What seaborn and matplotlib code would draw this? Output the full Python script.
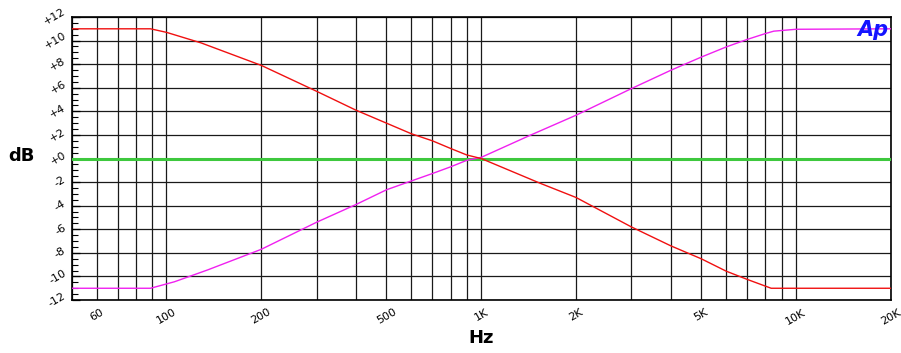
import numpy as np
import pandas as pd
import seaborn as sns
import matplotlib
matplotlib.use("Agg")
import matplotlib.pyplot as plt
from matplotlib.ticker import FixedLocator, FixedFormatter, LogLocator, MultipleLocator, NullFormatter

# red curve (bass boost / treble cut)
red_freq = [50, 89, 100, 129, 200, 300, 400, 500, 600, 700, 800, 900, 1000,
            1540, 2000, 3000, 4000, 5000, 6000, 7000, 8340, 20000]
red_db = [11.0, 11.0, 10.7, 9.8, 7.9, 5.7, 4.1, 3.0, 2.1, 1.5, 0.85, 0.3, 0.0,
          -2.1, -3.3, -5.8, -7.4, -8.5, -9.55, -10.25, -11.0, -11.0]

# magenta curve (bass cut / treble boost)
mag_freq = [50, 89, 106, 135, 200, 300, 400, 500, 600, 700, 800, 900, 1000,
            1430, 2000, 3000, 4000, 5000, 6000, 7000, 8000, 8500, 10000, 20000]
mag_db = [-11.0, -11.0, -10.45, -9.45, -7.7, -5.4, -3.9, -2.65, -1.9, -1.27, -0.7, -0.15, 0.1,
          1.97, 3.67, 5.93, 7.48, 8.6, 9.46, 10.1, 10.6, 10.8, 10.96, 11.0]

# flat curve
flat_freq = [50, 20000]
flat_db = [0.0, 0.0]

x_ticks = [60, 100, 200, 500, 1000, 2000, 5000, 10000, 20000]
x_labels = ["60", "100", "200", "500", "1K", "2K", "5K", "10K", "20K"]
y_ticks = [-12, -10, -8, -6, -4, -2, 0, 2, 4, 6, 8, 10, 12]
y_labels = ["-12", "-10", "-8", "-6", "-4", "-2", "+0", "+2", "+4", "+6", "+8", "+10", "+12"]

sns.set_theme(style="white")
plt.rcParams["font.family"] = ["DejaVu Sans"]
plt.rcParams["text.color"] = "black"
plt.rcParams["axes.labelcolor"] = "black"
plt.rcParams["xtick.color"] = "black"
plt.rcParams["ytick.color"] = "black"

fig = plt.figure(figsize=(9.01, 3.53), dpi=100)
ax = fig.add_axes([0.0796, 0.150, 0.9090, 0.8018])

red_df = pd.DataFrame({"Hz": red_freq, "dB": red_db})
mag_df = pd.DataFrame({"Hz": mag_freq, "dB": mag_db})
flat_df = pd.DataFrame({"Hz": flat_freq, "dB": flat_db})

sns.lineplot(data=flat_df, x="Hz", y="dB", ax=ax, color="#3ec83e", linewidth=2.2,
             sort=False, estimator=None, zorder=3)
sns.lineplot(data=mag_df, x="Hz", y="dB", ax=ax, color="#f020f0", linewidth=1.0,
             sort=False, estimator=None, zorder=4)
sns.lineplot(data=red_df, x="Hz", y="dB", ax=ax, color="#f01010", linewidth=1.0,
             sort=False, estimator=None, zorder=5)

ax.set_xscale("log")
ax.set_xlim(50, 20000)
ax.set_ylim(-12, 12)

ax.xaxis.set_major_locator(FixedLocator(x_ticks))
ax.xaxis.set_major_formatter(FixedFormatter(x_labels))
ax.xaxis.set_minor_locator(LogLocator(base=10, subs=np.arange(2, 10), numticks=20))
ax.xaxis.set_minor_formatter(NullFormatter())
ax.yaxis.set_major_locator(FixedLocator(y_ticks))
ax.yaxis.set_major_formatter(FixedFormatter(y_labels))
ax.yaxis.set_minor_locator(MultipleLocator(0.5))

ax.grid(True, which="major", axis="y", color="#1a1a1a", linewidth=0.9)
ax.grid(True, which="both", axis="x", color="#1a1a1a", linewidth=0.9)

ax.tick_params(axis="x", which="both", length=0, pad=5, labelsize=8, labelrotation=30)
ax.tick_params(axis="y", which="major", direction="in", length=6, width=0.9,
               color="black", pad=3, labelsize=8, labelrotation=30, left=True)
ax.tick_params(axis="y", which="minor", direction="in", length=4, width=0.8,
               color="black", left=True)
for lbl in ax.get_yticklabels():
    lbl.set_ha("right")
    lbl.set_va("center")

for s in ax.spines.values():
    s.set_color("black")
    s.set_linewidth(1.2)

ax.set_xlabel("Hz", fontsize=13, fontweight="bold", va="center")
ax.set_ylabel("dB", fontsize=13, fontweight="bold", rotation=0, va="center", ha="center")
ax.yaxis.set_label_coords(-0.061, 0.51)
ax.xaxis.set_label_coords(0.50, -0.134)

ax.text(0.997, 0.99, "Ap", transform=ax.transAxes, ha="right", va="top",
        fontsize=15, fontweight="bold", fontstyle="italic", color="#1414ff", zorder=6)

fig.savefig("out.png", dpi=100)
